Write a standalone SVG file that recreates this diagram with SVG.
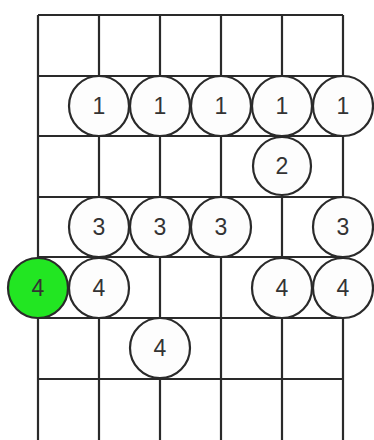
<svg xmlns="http://www.w3.org/2000/svg" width="374" height="440" viewBox="0 0 374 440">
<style>
.g{stroke:#2a2a2a;stroke-width:2.2;fill:none}
.n circle{fill:#fdfdfd;stroke:#2a2a2a;stroke-width:2.2}
.n.root circle{fill:#22e622}
.n text{font-family:"Liberation Sans",Arial,sans-serif;font-size:23px;fill:#333;text-anchor:middle;dominant-baseline:central}
</style>
<rect width="374" height="440" fill="#fff"/>
<g id="connectors" class="g">
<path d="M38 15V440M99 15V440M160 15V440M221 15V440M282 15V440M343 15V440"/>
<path d="M38 15H343M38 76H343M38 136H343M38 197H343M38 257H343M38 318H343M38 379H343"/>
</g>
<g id="n1a" class="n"><circle cx="99" cy="106" r="30"/><text x="99" y="106">1</text></g>
<g id="n1b" class="n"><circle cx="160" cy="106" r="30"/><text x="160" y="106">1</text></g>
<g id="n1c" class="n"><circle cx="221" cy="106" r="30"/><text x="221" y="106">1</text></g>
<g id="n1d" class="n"><circle cx="282" cy="106" r="30"/><text x="282" y="106">1</text></g>
<g id="n1e" class="n"><circle cx="343" cy="106" r="30"/><text x="343" y="106">1</text></g>
<g id="n2" class="n"><circle cx="282" cy="166" r="29"/><text x="282" y="166">2</text></g>
<g id="n3a" class="n"><circle cx="99" cy="227" r="30"/><text x="99" y="227">3</text></g>
<g id="n3b" class="n"><circle cx="160" cy="227" r="30"/><text x="160" y="227">3</text></g>
<g id="n3c" class="n"><circle cx="221" cy="227" r="30"/><text x="221" y="227">3</text></g>
<g id="n3d" class="n"><circle cx="343" cy="227" r="30"/><text x="343" y="227">3</text></g>
<g id="n4root" class="n root"><circle cx="38" cy="288" r="30"/><text x="38" y="288">4</text></g>
<g id="n4a" class="n"><circle cx="99" cy="288" r="30"/><text x="99" y="288">4</text></g>
<g id="n4b" class="n"><circle cx="282" cy="288" r="30"/><text x="282" y="288">4</text></g>
<g id="n4c" class="n"><circle cx="343" cy="288" r="30"/><text x="343" y="288">4</text></g>
<g id="n4d" class="n"><circle cx="160" cy="348" r="30"/><text x="160" y="348">4</text></g>
</svg>
